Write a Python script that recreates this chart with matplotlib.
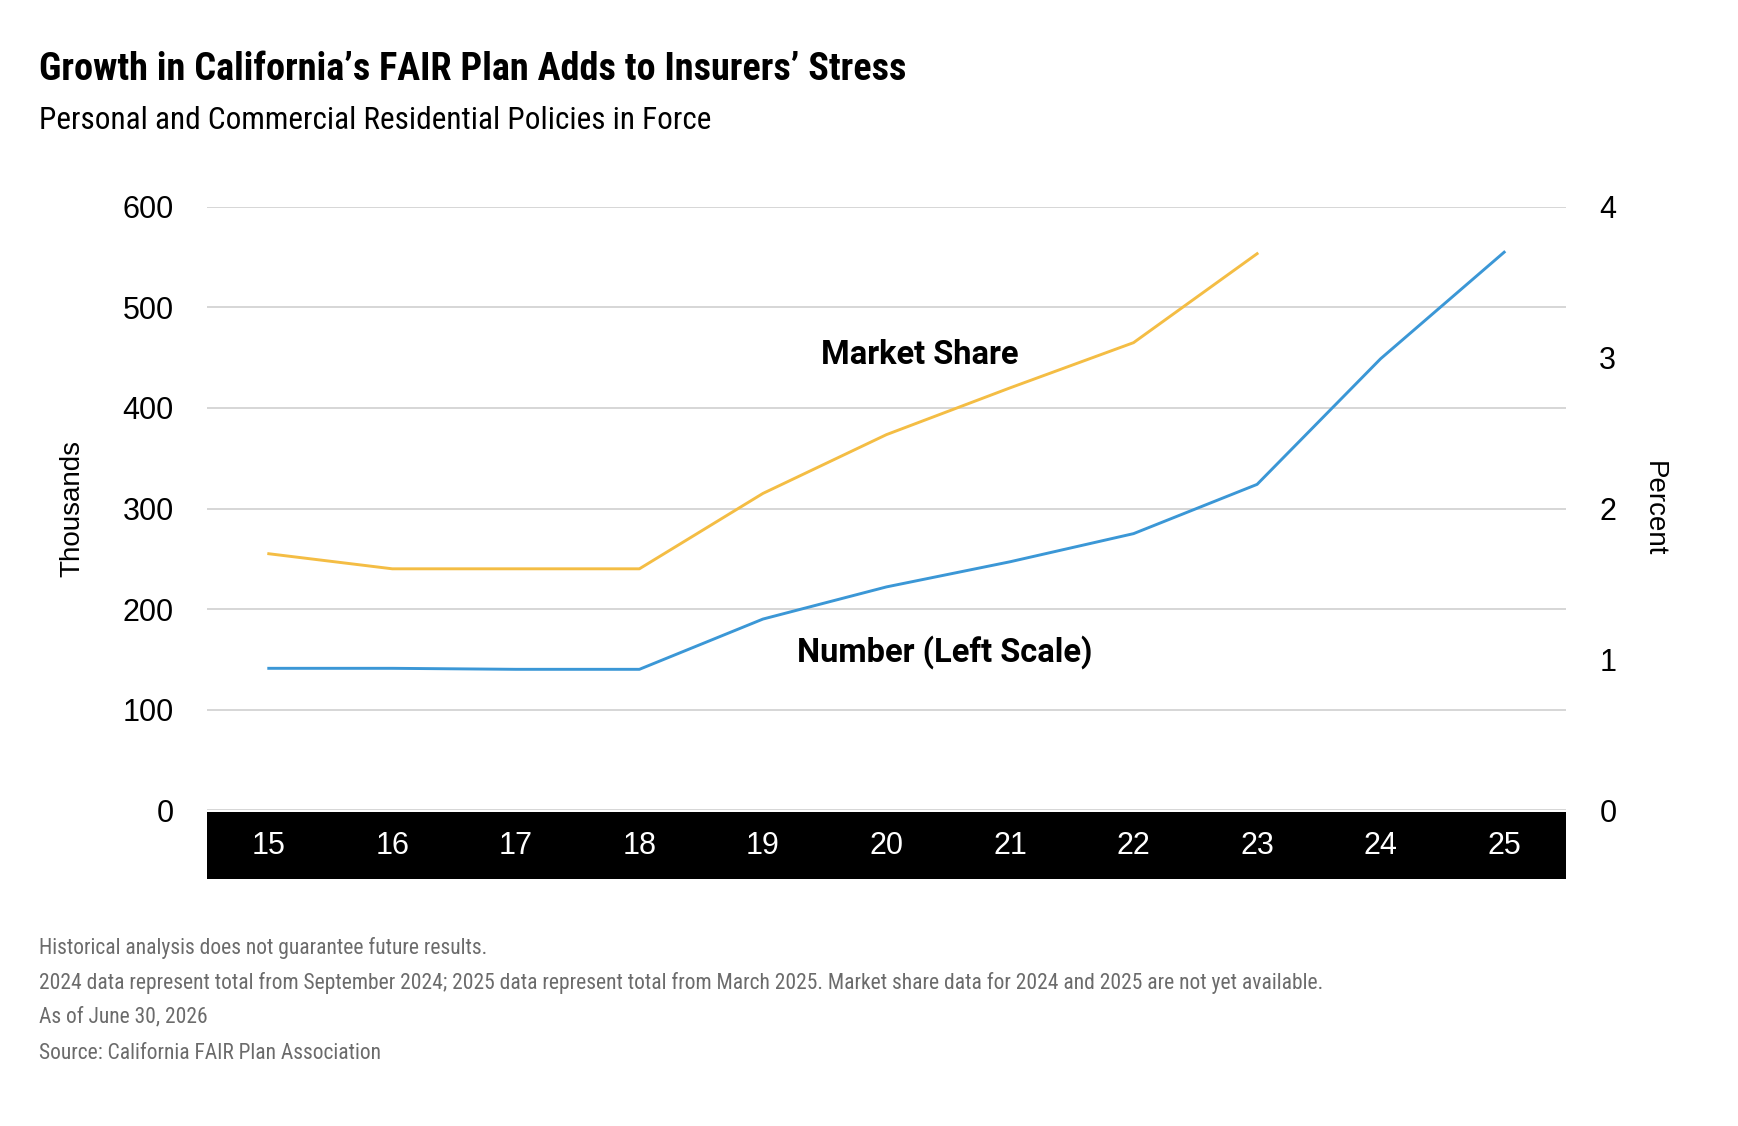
import matplotlib
matplotlib.use("Agg")
import matplotlib.pyplot as plt

# data
years = [15, 16, 17, 18, 19, 20, 21, 22, 23, 24, 25]
policies = [141, 141, 140, 140, 190, 222, 247, 275, 324, 449, 555]  # thousands
share_years = [15, 16, 17, 18, 19, 20, 21, 22, 23]
share = [1.70, 1.60, 1.60, 1.60, 2.10, 2.49, 2.80, 3.10, 3.69]  # percent
left_ticks = [0, 100, 200, 300, 400, 500, 600]
right_ticks = [0, 1, 2, 3, 4]

notes = [
    "Historical analysis does not guarantee future results.",
    "2024 data represent total from September 2024; 2025 data represent total from March 2025. "
    "Market share data for 2024 and 2025 are not yet available.",
    "As of June 30, 2026",
    "Source: California FAIR Plan Association",
]

blue = "#3b97d6"
yellow = "#f4bd44"
narrow = ["Liberation Sans Narrow", "Roboto Condensed", "Roboto"]
plain = ["Liberation Sans", "DejaVu Sans"]

fig = plt.figure(figsize=(17.38, 11.26), dpi=100)

left, width = 0.1191, 0.7819
ax = fig.add_axes([left, 0.2806, width, 0.5356])

# black band holding the year labels
band = fig.add_axes([left, 0.2194, width, 0.0595], zorder=0)
band.set_facecolor("black")
band.set_xticks([])
band.set_yticks([])
for s in band.spines.values():
    s.set_visible(False)

ax.set_zorder(2)
ax.set_facecolor("none")
ax.plot(years, policies, color=blue, lw=2.1)
ax.set_xlim(14.5, 25.5)
ax.set_ylim(0, 600)
ax.set_yticks(left_ticks)
ax.set_xticks(years)
ax.set_xticklabels([str(y) for y in years], family=plain, fontsize=22, color="white")
ax.tick_params(axis="x", length=0, pad=15)
ax.tick_params(axis="y", length=0, pad=24, labelsize=22)
for lab in ax.get_yticklabels():
    lab.set_family(plain)
ax.grid(axis="y", color="#d0d0d0", lw=1.2)
ax.set_axisbelow(True)
for s in ax.spines.values():
    s.set_visible(False)
ax.set_ylabel("Thousands", family=plain, fontsize=20, labelpad=27)

ax2 = ax.twinx()
ax2.set_zorder(3)
ax2.plot(share_years, share, color=yellow, lw=2.1)
ax2.set_ylim(0, 4)
ax2.set_yticks(right_ticks)
ax2.tick_params(axis="y", length=0, pad=24, labelsize=22)
for lab in ax2.get_yticklabels():
    lab.set_family(plain)
for s in ax2.spines.values():
    s.set_visible(False)
ax2.set_ylabel("Percent", family=plain, fontsize=20, rotation=270, labelpad=36)

ax.text(20.27, 453, "Market Share", family=["Roboto"], fontweight="bold",
        fontsize=23.5, ha="center", va="center")
ax.text(20.47, 157, "Number (Left Scale)", family=["Roboto"], fontweight="bold",
        fontsize=23.5, ha="center", va="center")

fig.text(0.0224, 0.9387, "Growth in California\u2019s FAIR Plan Adds to Insurers\u2019 Stress",
         family=narrow, fontweight="bold", fontsize=27.5, va="center")
fig.text(0.0224, 0.8934, "Personal and Commercial Residential Policies in Force",
         family=narrow, fontsize=22.5, va="center")

for y, t in zip([0.1581, 0.1270, 0.0968, 0.0648], notes):
    fig.text(0.0224, y, t, family=narrow, fontsize=15.5, color="#6b6b6b", va="center")

fig.savefig("out.png", dpi=100)
